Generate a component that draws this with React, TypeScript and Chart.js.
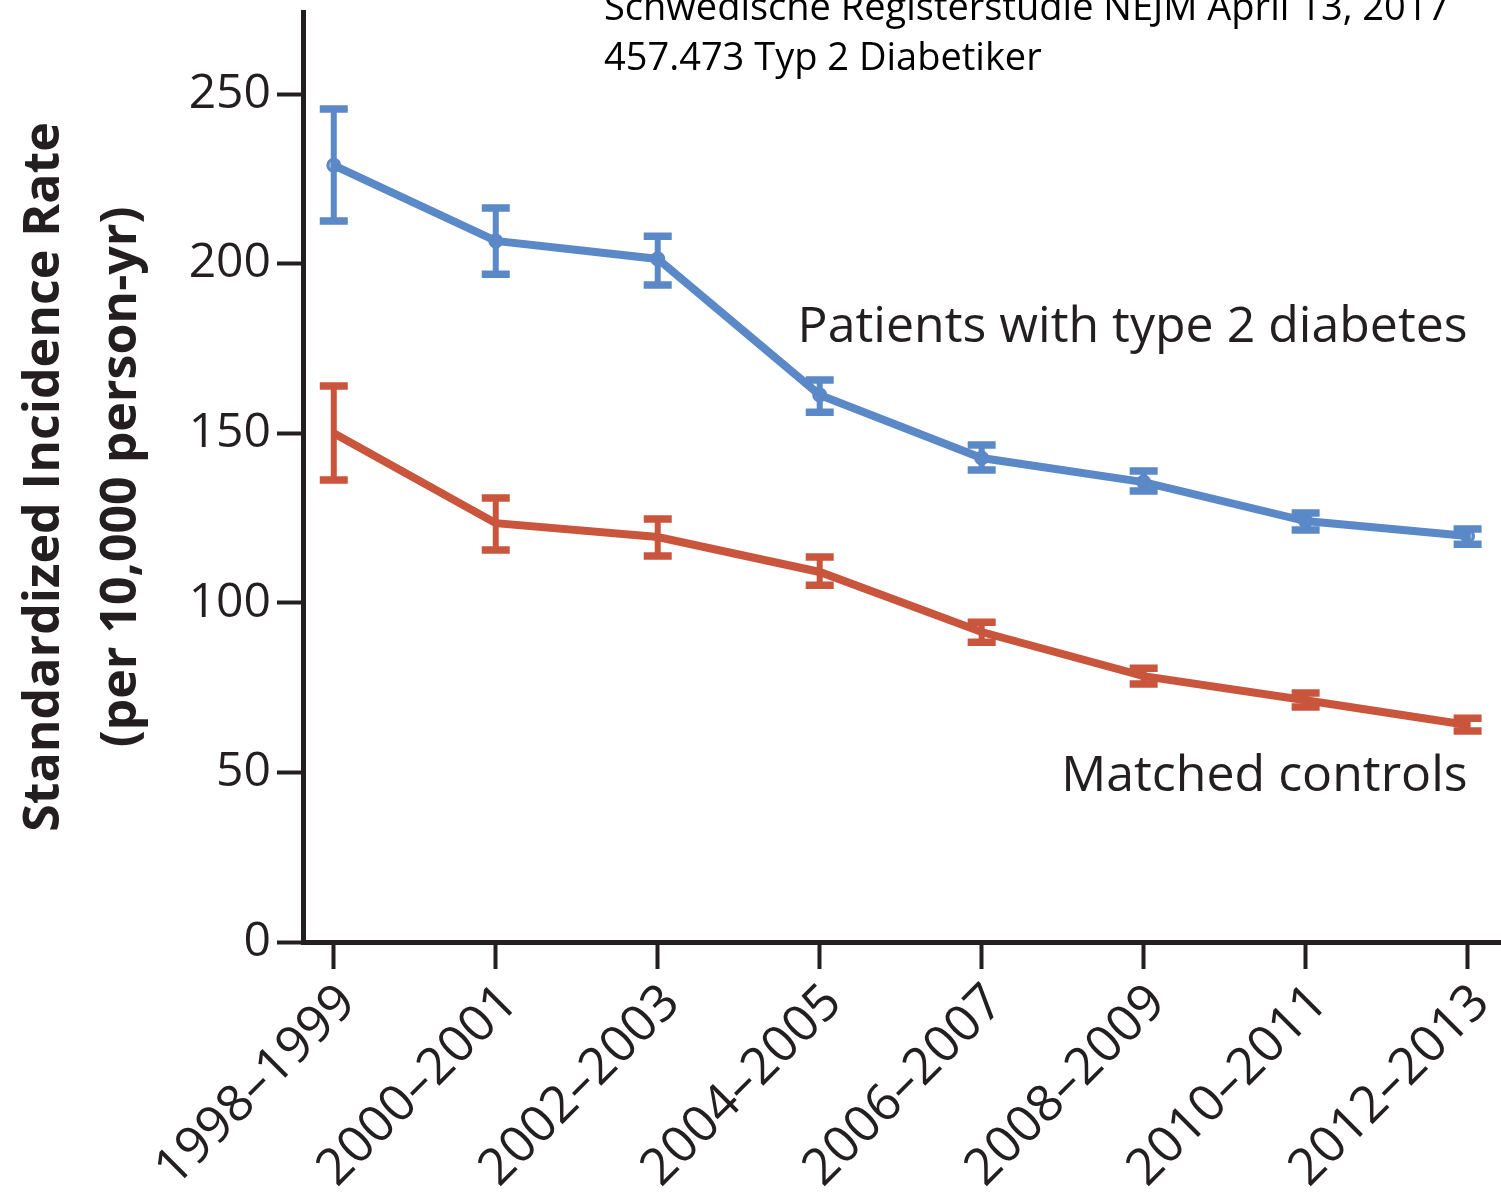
import React, { useEffect, useRef } from "react";
import { Chart, registerables } from "chart.js";

Chart.register(...registerables);

const categories = [
  "1998–1999",
  "2000–2001",
  "2002–2003",
  "2004–2005",
  "2006–2007",
  "2008–2009",
  "2010–2011",
  "2012–2013",
];
const diabetesRate = [229.0, 206.7, 201.4, 161.3, 142.7, 135.6, 124.1, 119.7];
const diabetesLow = [212.6, 196.9, 193.7, 156.2, 139.2, 133.0, 121.5, 117.3];
const diabetesHigh = [245.6, 216.4, 208.1, 165.7, 146.5, 138.9, 126.5, 121.8];
const controlRate = [150.0, 123.5, 119.4, 109.1, 91.4, 78.4, 71.3, 64.0];
const controlLow = [136.2, 115.6, 113.8, 105.2, 88.4, 76.1, 69.3, 62.2];
const controlHigh = [163.9, 130.9, 124.7, 113.5, 94.3, 80.7, 73.4, 66.0];
const yTicks = [0, 50, 100, 150, 200, 250];
const seriesLabels = ["Patients with type 2 diabetes", "Matched controls"];
const titleLines = [
  "Schwedische Registerstudie NEJM April 13, 2017",
  "457.473 Typ 2 Diabetiker",
];

const BLUE = "rgb(91,136,198)";
const RED = "rgb(200,85,60)";
const INK = "#231f20";
const FONT = "'Open Sans', 'Noto Sans', sans-serif";

const errorBarPlugin = {
  id: "errorBars",
  afterDatasetsDraw(chart: any) {
    const ctx = chart.ctx;
    const xs = chart.scales.x;
    const ys = chart.scales.y;
    chart.data.datasets.forEach((ds: any) => {
      const lows: number[] = ds.errLow;
      const highs: number[] = ds.errHigh;
      ctx.save();
      ctx.strokeStyle = ds.borderColor;
      ctx.lineCap = "butt";
      ds.data.forEach((pt: any, i: number) => {
        const x = xs.getPixelForValue(pt.x);
        const yl = ys.getPixelForValue(lows[i]);
        const yh = ys.getPixelForValue(highs[i]);
        const hw = 14;
        ctx.lineWidth = 6;
        ctx.beginPath();
        ctx.moveTo(x, yl);
        ctx.lineTo(x, yh);
        ctx.stroke();
        ctx.lineWidth = 7.5;
        ctx.beginPath();
        ctx.moveTo(x - hw, yl);
        ctx.lineTo(x + hw, yl);
        ctx.moveTo(x - hw, yh);
        ctx.lineTo(x + hw, yh);
        ctx.stroke();
      });
      ctx.restore();
    });
  },
};

const labelPlugin = {
  id: "seriesLabels",
  afterDraw(chart: any) {
    const ctx = chart.ctx;
    const xs = chart.scales.x;
    const ys = chart.scales.y;
    const xr = xs.getPixelForValue(categories.length - 1);
    ctx.save();
    ctx.fillStyle = INK;
    ctx.font = `50px ${FONT}`;
    ctx.textAlign = "right";
    ctx.textBaseline = "alphabetic";
    ctx.fillText(seriesLabels[0], xr, ys.getPixelForValue(176.8));
    ctx.fillText(seriesLabels[1], xr, ys.getPixelForValue(44.5));
    ctx.restore();
  },
};

export default function App() {
  const ref = useRef<HTMLCanvasElement | null>(null);

  useEffect(() => {
    if (!ref.current) return;
    const mk = (vals: number[]) => vals.map((v, i) => ({ x: i, y: v }));
    const chart = new Chart(ref.current, {
      type: "line",
      data: {
        datasets: [
          {
            label: seriesLabels[0],
            data: mk(diabetesRate),
            borderColor: BLUE,
            backgroundColor: BLUE,
            borderWidth: 8,
            pointRadius: 6,
            pointBorderWidth: 3,
            pointBackgroundColor: "rgba(91,136,198,0.55)",
            pointBorderColor: BLUE,
            tension: 0,
            clip: false,
            errLow: diabetesLow,
            errHigh: diabetesHigh,
          } as any,
          {
            label: seriesLabels[1],
            data: mk(controlRate),
            borderColor: RED,
            backgroundColor: RED,
            borderWidth: 8,
            pointRadius: 0,
            tension: 0,
            clip: false,
            errLow: controlLow,
            errHigh: controlHigh,
          } as any,
        ],
      },
      options: {
        animation: false,
        responsive: false,
        maintainAspectRatio: false,
        layout: { autoPadding: false, padding: { top: 12, right: 1, left: 0, bottom: 0 } },
        plugins: {
          legend: { display: false },
          tooltip: { enabled: false },
          title: { display: false },
        },
        scales: {
          x: {
            type: "linear",
            min: -0.19,
            max: 7.2,
            afterBuildTicks: (scale: any) => {
              scale.ticks = categories.map((_, i) => ({ value: i }));
            },
            afterFit: (scale: any) => {
              scale.height = 252;
              scale.paddingLeft = 0;
              scale.paddingRight = 0;
            },
            grid: {
              drawOnChartArea: false,
              drawTicks: true,
              tickLength: 27,
              tickWidth: 4,
              tickColor: INK,
            },
            border: { display: true, color: INK, width: 5 },
            ticks: {
              autoSkip: false,
              minRotation: 45,
              maxRotation: 45,
              padding: 4,
              labelOffset: 14,
              color: INK,
              font: { family: FONT, size: 51 },
              callback: (v: any) => categories[v as number] ?? "",
            },
          },
          y: {
            type: "linear",
            min: 0,
            max: 274.2,
            afterBuildTicks: (scale: any) => {
              scale.ticks = yTicks.map((v) => ({ value: v }));
            },
            afterFit: (scale: any) => {
              scale.width = 303;
              scale.paddingTop = 0;
              scale.paddingBottom = 0;
            },
            grid: {
              drawOnChartArea: false,
              drawTicks: true,
              tickLength: 26,
              tickWidth: 4,
              tickColor: INK,
            },
            border: { display: true, color: INK, width: 5 },
            ticks: {
              padding: 6,
              color: INK,
              font: { family: FONT, size: 48 },
            },
            title: {
              display: true,
              text: ["Standardized Incidence Rate", "(per 10,000 person-yr)"],
              color: INK,
              padding: { top: 6, bottom: 0 },
              font: { family: FONT, size: 50, weight: "bold", lineHeight: 1.54 },
            },
          },
        },
      } as any,
      plugins: [errorBarPlugin, labelPlugin],
    });
    return () => chart.destroy();
  }, []);

  return (
    <div
      style={{
        position: "absolute",
        left: 0,
        top: 0,
        width: 1501,
        height: 1194,
        overflow: "hidden",
        background: "#fff",
      }}
    >
      <canvas
        ref={ref}
        width={1501}
        height={1194}
        style={{ position: "absolute", left: 0, top: 0, width: 1501, height: 1194 }}
      />
      <div
        style={{
          position: "absolute",
          left: 604,
          top: -20,
          fontFamily: "'Open Sans', sans-serif",
          fontSize: 38,
          lineHeight: "50px",
          color: "#000",
          whiteSpace: "pre",
        }}
      >
        <div>{titleLines[0]}</div>
        <div>{titleLines[1]}</div>
      </div>
    </div>
  );
}
